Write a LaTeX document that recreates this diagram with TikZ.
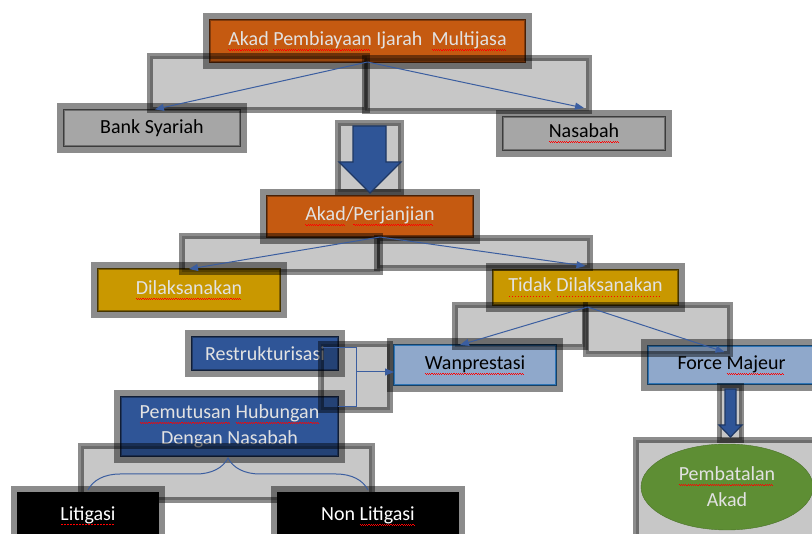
\documentclass[tikz,border=0pt]{standalone}
\usepackage{fontspec}
\setmainfont{Carlito}
\usetikzlibrary{fit,arrows.meta,shapes.geometric,decorations.pathreplacing}

\definecolor{akadorange}{HTML}{C55A11}
\definecolor{akadedge}{HTML}{843C0C}
\definecolor{goldfill}{RGB}{201,152,0}
\definecolor{goldedge}{HTML}{7F6000}
\definecolor{darkblue}{HTML}{2F5597}
\definecolor{darkblueedge}{HTML}{1F3864}
\definecolor{paleblue}{RGB}{143,168,203}
\definecolor{paleblueedge}{HTML}{2E75B6}
\definecolor{greyfill}{RGB}{166,166,166}
\definecolor{greyedge}{RGB}{110,110,110}
\definecolor{leafgreen}{RGB}{94,142,52}
\definecolor{linkblue}{RGB}{59,94,160}
\definecolor{lighttext}{RGB}{226,226,226}

% spell-check marks under words
\newcommand\spellwave[1]{\setbox0\hbox{#1}\rlap{\color{red}\hbox to \wd0{\leaders\hbox{\rule[-4.2pt]{1.1pt}{0.8pt}\rule[-5.2pt]{1.1pt}{0.8pt}}\hfill}}\box0\relax}
\newcommand\spelldot[1]{\setbox0\hbox{#1}\rlap{\color{red}\hbox to \wd0{\leaders\hbox to 3pt{\hss\rule[-5pt]{1.2pt}{1.2pt}\hss}\hfill}}\box0\relax}

\tikzset{
  box/.style 2 args={draw, line width=1.2, minimum width=#1, minimum height=#2,
    inner sep=1, outer sep=0, align=center, font=\fontsize{20}{26}\selectfont},
  orangebox/.style 2 args={box={#1}{#2}, fill=akadorange, draw=akadedge, text=lighttext},
  greybox/.style 2 args={box={#1}{#2}, fill=greyfill, draw=greyedge, text=black},
  goldbox/.style 2 args={box={#1}{#2}, fill=goldfill, draw=goldedge, text=lighttext},
  bluebox/.style 2 args={box={#1}{#2}, fill=darkblue, draw=darkblueedge, line width=2, text=lighttext},
  palebox/.style 2 args={box={#1}{#2}, fill=paleblue, draw=paleblueedge, text=black},
  blackbox/.style 2 args={box={#1}{#2}, fill=black, draw=black, text=white},
  selframe/.style={draw=black, draw opacity=0.45, line width=7, inner sep=3.5, outer sep=0},
  conbox/.style={fill=black, fill opacity=0.22, draw=black, draw opacity=0.45, line width=6},
  link/.style={draw=linkblue, line width=1},
  linkarrow/.style={link, -{Triangle[length=9,width=7]}},
  blockarrow/.style={fill=darkblue, draw=darkblueedge, line width=1.2}
}

\begin{document}
\begin{tikzpicture}[x=1pt,y=-1pt]
\path[use as bounding box, fill=white] (0,0) rectangle (812,534);

% boxes
\node[orangebox={315}{42}] (top) at (367.5,41) {\spellwave{Akad} \spellwave{Pembiayaan} Ijarah\ \ \spellwave{Multijasa}};
\node[greybox={176}{36}] (bank) at (152,128) {Bank Syariah};
\node[greybox={162}{33}] (nasabah) at (584,133.5) {\spellwave{Nasabah}};
\node[orangebox={206}{41}] (akad) at (370,216.5) {\spellwave{Akad}/\spellwave{Perjanjian}};
\node[goldbox={182}{42}] (dilak) at (189,290) {\spellwave{Dilaksanakan}};
\node[goldbox={185}{35}] (tidak) at (585.5,287.5) {\spelldot{Tidak} \spelldot{Dilaksanakan}};
\node[bluebox={146}{33}] (restru) at (265,353.5) {Restrukturisasi};
\node[palebox={162}{40}] (wanpres) at (475,365) {\spellwave{Wanprestasi}};
\node[palebox={167}{38}] (force) at (731.5,365) {Force \spellwave{Majeur}};
\node[bluebox={217}{59}] (putus) at (229.5,426.5) {\spellwave{Pemutusan} \spellwave{Hubungan}\\Dengan Nasabah};
\node[blackbox={140}{46}] (litigasi) at (88,516) {\spelldot{Litigasi}};
\node[blackbox={180}{46}] (nonlit) at (368,516) {Non \spellwave{Litigasi}};

% selection frames
\foreach \n in {top,bank,nasabah,akad,dilak,tidak,restru,wanpres,force,putus,litigasi,nonlit}
  \node[selframe, fit=(\n)] {};

% grey connector frames
\draw[conbox] (150,56) rectangle (367,110);
\draw[conbox] (365,58) rectangle (589,111);
\draw[conbox] (337.5,123.5) rectangle (400.5,192.5);
\draw[conbox] (182,236) rectangle (380,272);
\draw[conbox] (377,238) rectangle (590,268);
\draw[conbox] (455,305) rectangle (585,347);
\draw[conbox] (586,305) rectangle (730,354);
\draw[conbox] (321,344) rectangle (390,410);
\draw[conbox] (81,446) rectangle (372,500);
\draw[conbox, line width=5] (719.5,385.5) rectangle (741.5,440.5);
\draw[conbox] (636,440) rectangle (830,545);

% result
\node[ellipse, fill=leafgreen, draw=leafgreen!80!black, minimum width=172, minimum height=86,
  align=center, text=lighttext, font=\fontsize{20}{26}\selectfont] (batal) at (727,487)
  {\spellwave{Pembatalan}\\Akad};

% block arrows
\filldraw[blockarrow] (353,126) -- (386,126) -- (386,162) -- (401,162) -- (370,193) -- (339,162) -- (353,162) -- cycle;
\filldraw[blockarrow] (725,389) -- (736,389) -- (736,425) -- (742,425) -- (730.5,437) -- (719,425) -- (725,425) -- cycle;

% connectors
\draw[linkarrow, shorten >=3] (top.south) -- (bank.north);
\draw[linkarrow] (top.south) -- ([yshift=9]nasabah.north);
\draw[linkarrow] ([xshift=10]akad.south) -- (dilak.north);
\draw[linkarrow] ([xshift=10]akad.south) -- ([yshift=4]tidak.north);
\draw[linkarrow] ([shift={(2,2)}]tidak.south) -- ([xshift=-15]wanpres.north);
\draw[linkarrow] ([shift={(2,2)}]tidak.south) -- ([shift={(-7,6)}]force.north);
\draw[link] ([shift={(-15,-6)}]restru.east) -| (356,407) -- (putus.east |- 0,407);
\coordinate (brk) at (356,372);
\draw[linkarrow] (brk) -- (wanpres.west |- brk);
\draw[link, decorate, decoration={brace, amplitude=32}] ([yshift=3]litigasi.north) -- ([yshift=3]nonlit.north);
\end{tikzpicture}
\end{document}
